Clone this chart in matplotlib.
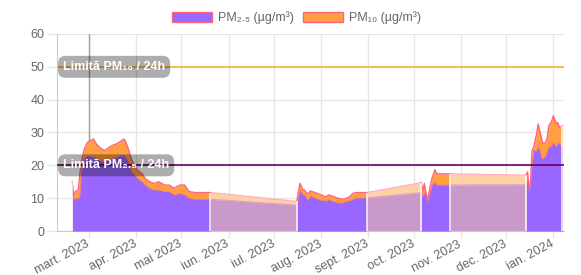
import matplotlib
matplotlib.use("Agg")
import matplotlib.pyplot as plt
from matplotlib.patches import Patch
import pandas as pd

plt.rcParams['font.family'] = ['Liberation Sans', 'DejaVu Sans']

# measured segments (date, PM2.5, PM10) - gaps between segments are drawn lighter
seg1_dates = ['2023-02-18', '2023-02-19', '2023-02-20', '2023-02-22', '2023-02-23', '2023-02-24',
              '2023-02-26', '2023-02-28', '2023-03-04', '2023-03-06', '2023-03-08', '2023-03-11',
              '2023-03-13', '2023-03-16', '2023-03-19', '2023-03-21', '2023-03-24', '2023-03-25',
              '2023-03-27', '2023-03-29', '2023-03-31', '2023-04-02', '2023-04-05', '2023-04-07',
              '2023-04-10', '2023-04-13', '2023-04-16', '2023-04-20', '2023-04-23', '2023-04-26',
              '2023-04-30', '2023-05-03', '2023-05-06', '2023-05-10', '2023-05-13', '2023-05-16',
              '2023-05-20']
seg1_pm25 = [13.5, 9.5, 10, 10, 10.5, 18, 22, 23, 22.5, 22, 21.5, 21, 21.5, 22, 22.5, 23, 23, 22.5,
             21, 18, 17, 16, 15, 14, 13, 12.5, 12.5, 12, 12, 11, 11.5, 11, 10, 9.7, 9.7, 9.7, 9.7]
seg1_pm10 = [15, 10.5, 12, 12.5, 17, 21, 25, 27, 28, 26.5, 25.5, 24.5, 25, 26, 26.5, 27, 28, 27.5,
             25, 22, 20, 18.5, 17.5, 16, 15, 14.5, 15, 14, 14, 13, 14, 14, 12, 11.7, 11.7, 11.7, 11.7]

seg2_dates = ['2023-07-16', '2023-07-18', '2023-07-20', '2023-07-21', '2023-07-23', '2023-07-25',
              '2023-07-28', '2023-08-01', '2023-08-04', '2023-08-06', '2023-08-09', '2023-08-14',
              '2023-08-17', '2023-08-20', '2023-08-22', '2023-08-24', '2023-08-31']
seg2_pm25 = [7.9, 12.4, 11, 11, 9.4, 10.7, 10, 9.4, 9.2, 9.6, 9, 8.5, 8.9, 9.3, 9.7, 10.1, 10.1]
seg2_pm10 = [9, 14.5, 12.5, 12.5, 11.2, 12.2, 11.7, 11, 10.4, 11, 10.5, 9.7, 9.8, 10.5, 11.5, 11.7, 11.7]

seg3_dates = ['2023-10-06', '2023-10-07', '2023-10-08', '2023-10-10', '2023-10-13', '2023-10-15',
              '2023-10-16', '2023-10-18', '2023-10-25']
seg3_pm25 = [11.7, 10.5, 11.8, 8.9, 14, 15, 14, 14, 14]
seg3_pm10 = [14.7, 12, 14.5, 9.4, 16, 18.7, 17.5, 17.4, 17.4]

seg4_dates = ['2023-12-14', '2023-12-15', '2023-12-16', '2023-12-17', '2023-12-18', '2023-12-19',
              '2023-12-21', '2023-12-22', '2023-12-24', '2023-12-25', '2023-12-27', '2023-12-28',
              '2023-12-29', '2023-12-31', '2024-01-01', '2024-01-03', '2024-01-04', '2024-01-05',
              '2024-01-07']
seg4_pm25 = [14.1, 15.5, 11.9, 14.5, 20.6, 24.5, 24.5, 26, 22.5, 22, 23, 24.5, 25.5, 26, 27, 25.5,
             27, 26.6, 25.5]
seg4_pm10 = [17, 18, 12.4, 15.5, 24.5, 25.5, 29.7, 32.6, 28.6, 26.7, 27, 28.6, 32, 33.6, 35.1, 32.6,
             33, 31.6, 32]

segments = [(seg1_dates, seg1_pm25, seg1_pm10), (seg2_dates, seg2_pm25, seg2_pm10),
            (seg3_dates, seg3_pm25, seg3_pm10), (seg4_dates, seg4_pm25, seg4_pm10)]

month_ticks = ['2023-03-01', '2023-04-01', '2023-05-01', '2023-06-01', '2023-07-01', '2023-08-01',
               '2023-09-01', '2023-10-01', '2023-11-01', '2023-12-01', '2024-01-01']
month_labels = ['mart. 2023', 'apr. 2023', 'mai 2023', 'iun. 2023', 'iul. 2023', 'aug. 2023',
                'sept. 2023', 'oct. 2023', 'nov. 2023', 'dec. 2023', 'ian. 2024']

limit_pm10 = 50
limit_pm25 = 20

c25 = '#9966ff'
c10 = '#ff9f40'
c25_gap = '#c99ac9'
c10_gap = '#ffd1a6'
border = '#ff6384'
grey = '#666666'
gridc = '#e6e6e6'

fig = plt.figure(figsize=(5.81, 2.75), dpi=100)
ax = fig.add_axes([0.0981, 0.16, 0.8726, 0.7164])

segs = [(pd.to_datetime(d), p25, p10) for d, p25, p10 in segments]

# gaps: connect last point of one segment to first point of next
for (d1, a25, a10), (d2, b25, b10) in zip(segs[:-1], segs[1:]):
    gx = [d1[-1], d2[0]]
    ax.fill_between(gx, [a10[-1], b10[0]], color=c10_gap, lw=0, zorder=2)
    ax.plot(gx, [a10[-1], b10[0]], color='#ffb0b8', lw=1, zorder=2.1)
    ax.fill_between(gx, [a25[-1], b25[0]], color=c25_gap, lw=0, zorder=2.2)
    ax.plot(gx, [a25[-1], b25[0]], color='#e4a0c0', lw=0.8, zorder=2.3)

for d, p25, p10 in segs:
    ax.fill_between(d, p10, color=c10, lw=0, zorder=3)
    ax.plot(d, p10, color=border, lw=1, zorder=3.1)
    ax.fill_between(d, p25, color=c25, lw=0, zorder=3.2)
    ax.plot(d, p25, color=border, lw=0.5, alpha=0.5, zorder=3.3)

# white separators at gap edges
for d, p25, p10 in segs:
    for i in (0, -1):
        ax.vlines(d[i], 0, p10[i], color='white', lw=1.2, alpha=0.85, zorder=4)

ax.axhline(limit_pm10, color='#f5b942', lw=1.3, zorder=5)
ax.axhline(limit_pm25, color='#660066', lw=1.2, zorder=5)
ax.axvline(pd.Timestamp('2023-03-01'), color='#a0a0a0', lw=1, zorder=1.5)

tr = ax.get_yaxis_transform()
for val, txt in [(limit_pm10, 'Limită PM₁₀ / 24h'), (limit_pm25, 'Limită PM₂.₅ / 24h')]:
    ax.text(0.012, val, txt, transform=tr, color='white', fontsize=9, fontweight='bold',
            va='center', ha='left', zorder=6,
            bbox=dict(boxstyle='round,pad=0.4,rounding_size=0.6', fc='black', alpha=0.32, ec='none'))

ax.set_ylim(0, 60)
ax.set_yticks(range(0, 61, 10))
ax.set_xlim(pd.Timestamp('2023-02-08'), pd.Timestamp('2024-01-08'))
ax.set_xticks(pd.to_datetime(month_ticks))
ax.set_xticklabels(month_labels, rotation=28, ha='right', va='center', rotation_mode='anchor')

ax.grid(True, color=gridc, lw=1, zorder=0)
ax.set_axisbelow(True)
for s in ('top', 'right'):
    ax.spines[s].set_visible(False)
for s in ('left', 'bottom'):
    ax.spines[s].set_color('#cccccc')
ax.tick_params(axis='both', colors=gridc, labelcolor=grey, labelsize=9, width=1)
ax.tick_params(axis='x', length=5, pad=4)
ax.tick_params(axis='y', length=7, pad=2)

handles = [Patch(facecolor=c25, edgecolor=border, lw=1, label='PM₂.₅ (µg/m³)'),
           Patch(facecolor=c10, edgecolor=border, lw=1, label='PM₁₀ (µg/m³)')]
fig.legend(handles=handles, loc='center', bbox_to_anchor=(0.51, 0.935), ncol=2, frameon=False,
           fontsize=9, handlelength=3.2, handleheight=0.95, handletextpad=0.5, columnspacing=0.7,
           labelcolor=grey)

fig.savefig('out.png', dpi=100)
